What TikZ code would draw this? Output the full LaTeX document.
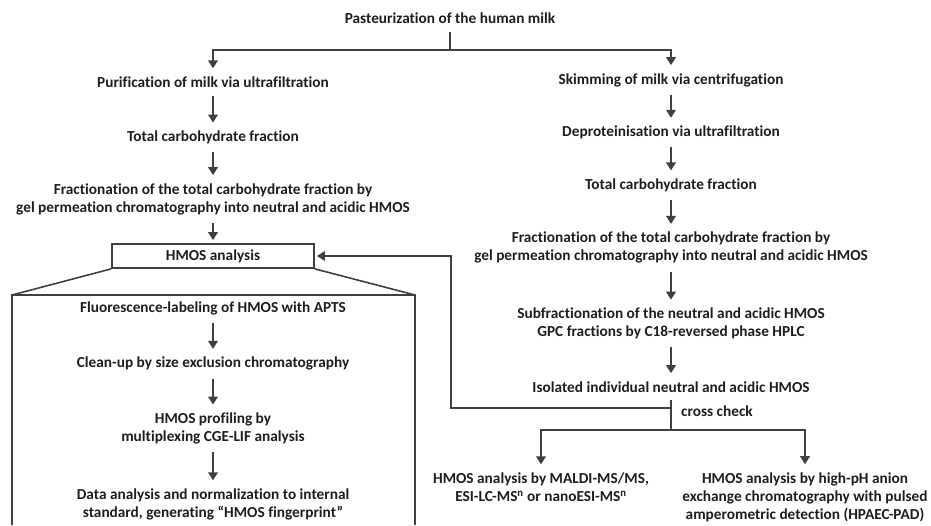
\documentclass[tikz,border=0pt]{standalone}
\usepackage{fontspec}
\setmainfont{Carlito}[Ligatures={TeX,NoCommon}]
\usepackage{xcolor}
\usetikzlibrary{arrows.meta, positioning}

\definecolor{inkgray}{HTML}{404040}
\definecolor{textgray}{HTML}{1E1E1E}

\begin{document}
\begin{tikzpicture}[
        x=1pt, y=-1pt,
        node distance=23pt,
        stepbox/.style={
            align=center,
            inner sep=8pt,
            text=textgray,
            font=\fontsize{15.3}{18}\selectfont\bfseries
        },
        hmosbox/.style={
            rectangle,
            draw=inkgray,
            line width=1.8pt,
            minimum width=202pt,
            minimum height=24pt,
            inner sep=0pt,
            text=textgray,
            font=\fontsize{15.3}{18}\selectfont\bfseries
        },
        arrow/.style={-{Triangle[width=9.5pt,length=8pt]}, line width=2.3pt, draw=inkgray},
        link/.style={line width=2.3pt, draw=inkgray},
        frame/.style={line width=1.6pt, draw=inkgray}
    ]

    \useasboundingbox (0,0) rectangle (931,525);

    \node (pasteur) [stepbox] at (450,18) {Pasteurization of the human milk};

    % left branch
    \node (purif) [stepbox] at (213,82) {Purification of milk via ultrafiltration};
    \node (lefttotal) [stepbox, below=27pt of purif] {Total carbohydrate fraction};
    \node (leftgpc) [stepbox, below=23pt of lefttotal] {Fractionation of the total carbohydrate fraction by\\gel permeation chromatography into neutral and acidic HMOS};
    \node (hmos) [hmosbox] at (213,256) {HMOS analysis};

    % right branch
    \node (skim) [stepbox] at (671,80) {Skimming of milk via centrifugation};
    \node (deprot) [stepbox, below=of skim] {Deproteinisation via ultrafiltration};
    \node (righttotal) [stepbox, below=of deprot] {Total carbohydrate fraction};
    \node (rightgpc) [stepbox, below=24pt of righttotal] {Fractionation of the total carbohydrate fraction by\\gel permeation chromatography into neutral and acidic HMOS};
    \node (subfrac) [stepbox, below=28pt of rightgpc] {Subfractionation of the neutral and acidic HMOS\\GPC fractions by C18-reversed phase HPLC};
    \node (isolated) [stepbox, below=26pt of subfrac] {Isolated individual neutral and acidic HMOS};

    % detail of the HMOS analysis
    \node (label) [stepbox] at (213,308) {Fluorescence-labeling of HMOS with APTS};
    \node (cleanup) [stepbox, below=26pt of label] {Clean-up by size exclusion chromatography};
    \node (profiling) [stepbox, below=26pt of cleanup] {HMOS profiling by\\multiplexing CGE-LIF analysis};
    \node (normalize) [stepbox, below=28pt of profiling] {Data analysis and normalization to internal\\standard, generating “HMOS fingerprint”};

    % cross check methods
    \node (crosscheck) [stepbox, anchor=west, inner sep=0pt] at (681,411) {cross check};
    \node (maldi) [stepbox] at (541,487) {HMOS analysis by MALDI-MS/MS,\\ESI-LC-MS\textsuperscript{n} or nanoESI-MS\textsuperscript{n}};
    \node (hpaec) [stepbox] at (805,497) {HMOS analysis by high-pH anion\\exchange chromatography with pulsed\\amperometric detection (HPAEC-PAD)};

    \coordinate (split) at (450,50);
    \coordinate (check) at (671,408);
    \coordinate (loop) at (451,408);
    \coordinate (cross) at (671,430);
    \coordinate (frame nw) at (12,295);
    \coordinate (frame ne) at (415,295);

    \draw [link] (pasteur) -- (split);
    \draw [arrow] (split) -| (purif);
    \draw [arrow] (split) -| (skim);

    \draw [arrow] (purif) -- (lefttotal);
    \draw [arrow] (lefttotal) -- (leftgpc);
    \draw [arrow, shorten >=3pt] (leftgpc) -- (hmos);

    \draw [arrow] (skim) -- (deprot);
    \draw [arrow] (deprot) -- (righttotal);
    \draw [arrow] (righttotal) -- (rightgpc);
    \draw [arrow] (rightgpc) -- (subfrac);
    \draw [arrow] (subfrac) -- (isolated);

    \draw [link] (isolated) -- (cross);
    \draw [arrow, shorten >=2pt] (check) -- (loop) |- (hmos);
    \draw [arrow] (cross) -| (maldi);
    \draw [arrow] (cross) -| (hpaec);

    \draw [frame] (hmos.south west) -- (frame nw);
    \draw [frame] (hmos.south east) -- (frame ne);
    \draw [frame] (12,525) -- (frame nw) -- (frame ne) -- (415,525);

    \draw [arrow] (label) -- (cleanup);
    \draw [arrow] (cleanup) -- (profiling);
    \draw [arrow] (profiling) -- (normalize);

    \end{tikzpicture}
\end{document}
